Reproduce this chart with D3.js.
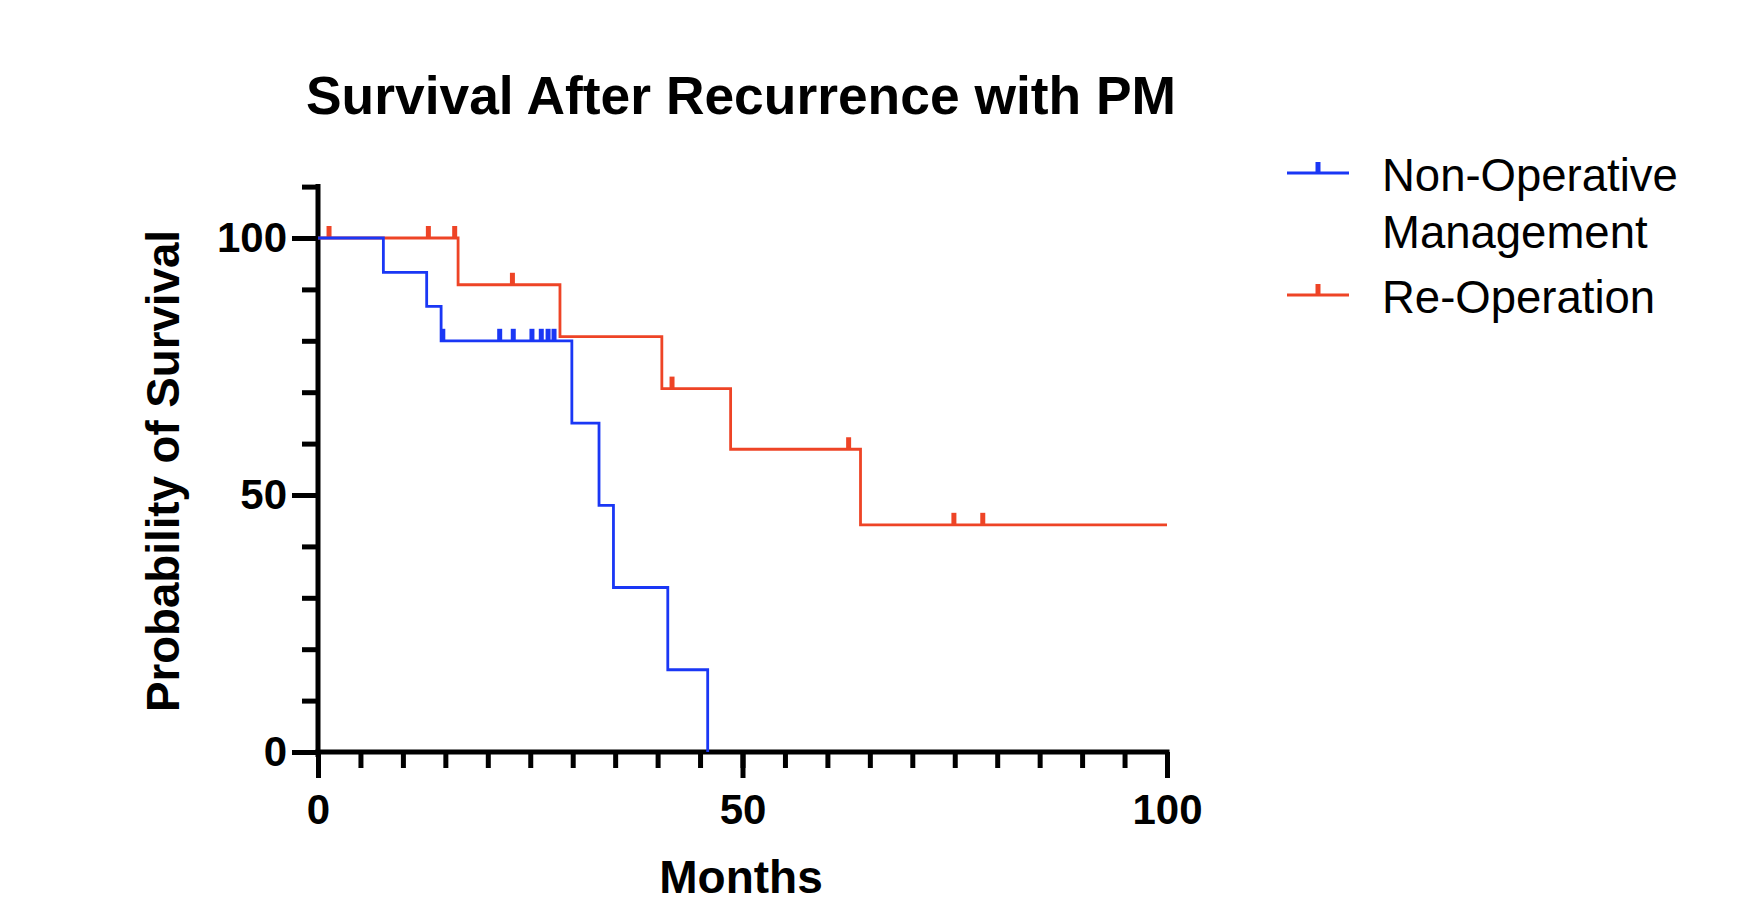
<!DOCTYPE html>
<html>
<head>
<meta charset="utf-8">
<script src="https://cdn.jsdelivr.net/npm/d3@7"></script>
<style>
  html, body { margin: 0; padding: 0; background: #fff; }
  svg { display: block; }
  text { font-family: "Liberation Sans", Arial, Helvetica, sans-serif; fill: #000; }
</style>
</head>
<body>
<svg id="chart" width="1758" height="908"></svg>
<script>
// ---- data ----
const seriesNames = ["Non-Operative Management", "Re-Operation"];
const blueTimes = [0, 7.7, 12.8, 14.5, 29.9, 33.1, 34.8, 41.2, 45.9];
const blueSurv  = [100, 93.3, 86.7, 80, 64, 48, 32, 16, 0];
const blueCensor = [14.7, 21.4, 23.0, 25.2, 26.3, 27.1, 27.8];
const redTimes = [0, 16.5, 28.5, 40.5, 48.6, 63.9, 100];
const redSurv  = [100, 90.9, 80.8, 70.7, 58.9, 44.2, 44.2];
const redCensor = [1.3, 13.0, 16.1, 22.9, 41.7, 62.5, 74.9, 78.3];
const xMajorTicks = [0, 50, 100];
const yMajorTicks = [0, 50, 100];
const titleText = "Survival After Recurrence with PM";
const xLabel = "Months";
const yLabel = "Probability of Survival";

const BLUE = "#1a37f5", RED = "#ee4426";

const svg = d3.select("#chart");
svg.append("rect").attr("width", 1758).attr("height", 908).attr("fill", "#fff");

const x = d3.scaleLinear().domain([0, 100]).range([318, 1167]);
const y = d3.scaleLinear().domain([0, 110]).range([752, 752 - 110 * 5.14]);

// ---- axes ----
const axW = 5;
function styleAxis(g) {
  g.selectAll("path.domain").attr("stroke", "#000").attr("stroke-width", axW).attr("stroke-linecap", "square");
  g.selectAll(".tick line").attr("stroke", "#000").attr("stroke-width", axW);
}
// y minor
const gyMinor = svg.append("g").attr("transform", `translate(${x(0)},0)`)
  .call(d3.axisLeft(y).tickValues(d3.range(0, 111, 10)).tickSize(16).tickSizeOuter(0).tickFormat(""));
styleAxis(gyMinor);
gyMinor.selectAll("path.domain").remove();
// y major with labels
const gy = svg.append("g").attr("transform", `translate(${x(0)},0)`)
  .call(d3.axisLeft(y).tickValues(yMajorTicks).tickSize(26).tickSizeOuter(0).tickPadding(5));
styleAxis(gy);
gy.selectAll("path.domain").attr("d", `M0,${y(110)}V${y(0) + axW/2}`);
gy.selectAll(".tick text").attr("font-size", 42).attr("font-weight", "bold")
  .attr("font-family", '"Liberation Sans", Arial, sans-serif').attr("fill", "#000");

// x minor
const gxMinor = svg.append("g").attr("transform", `translate(0,${y(0)})`)
  .call(d3.axisBottom(x).tickValues(d3.range(0, 101, 5)).tickSize(16).tickSizeOuter(0).tickFormat(""));
styleAxis(gxMinor);
gxMinor.selectAll("path.domain").remove();
const gx = svg.append("g").attr("transform", `translate(0,${y(0)})`)
  .call(d3.axisBottom(x).tickValues(xMajorTicks).tickSize(26).tickSizeOuter(0).tickPadding(16));
styleAxis(gx);
gx.selectAll("path.domain").attr("d", `M${x(0)},0H${x(100)}`);
gx.selectAll(".tick text").attr("font-size", 42).attr("font-weight", "bold")
  .attr("font-family", '"Liberation Sans", Arial, sans-serif').attr("fill", "#000")
  .attr("dy", "0.71em");

// ---- curves ----
const line = d3.line().x(d => x(d[0])).y(d => y(d[1])).curve(d3.curveStepAfter);
function survAt(times, surv, t) {
  let v = surv[0];
  for (let i = 0; i < times.length; i++) if (times[i] <= t) v = surv[i];
  return v;
}
function drawSeries(times, surv, censor, color) {
  const pts = times.map((t, i) => [t, surv[i]]);
  svg.append("path").attr("d", line(pts)).attr("fill", "none")
    .attr("stroke", color).attr("stroke-width", 2.8).attr("stroke-linejoin", "miter");
  svg.append("g").selectAll("line").data(censor).join("line")
    .attr("x1", d => x(d)).attr("x2", d => x(d))
    .attr("y1", d => y(survAt(times, surv, d)))
    .attr("y2", d => y(survAt(times, surv, d)) - 12)
    .attr("stroke", color).attr("stroke-width", 5);
}
drawSeries(redTimes, redSurv, redCensor, RED);
drawSeries(blueTimes, blueSurv, blueCensor, BLUE);

// ---- titles ----
svg.append("text").attr("x", 741).attr("y", 114).attr("text-anchor", "middle")
  .attr("font-size", 53).attr("font-weight", "bold")
  .attr("textLength", 870).attr("lengthAdjust", "spacingAndGlyphs").text(titleText);
svg.append("text").attr("x", 741).attr("y", 893).attr("text-anchor", "middle")
  .attr("font-size", 46).attr("font-weight", "bold").text(xLabel);
svg.append("text").attr("transform", "translate(179,471) rotate(-90)").attr("text-anchor", "middle")
  .attr("font-size", 46).attr("font-weight", "bold")
  .attr("textLength", 482).attr("lengthAdjust", "spacingAndGlyphs").text(yLabel);

// ---- legend ----
const legend = [
  { color: BLUE, lines: ["Non-Operative", "Management"], ly: 173, ty: 191 },
  { color: RED, lines: ["Re-Operation"], ly: 295, ty: 313 }
];
const lg = svg.append("g");
legend.forEach((d, i) => {
  lg.append("line").attr("x1", 1287).attr("x2", 1349).attr("y1", d.ly).attr("y2", d.ly)
    .attr("stroke", d.color).attr("stroke-width", 2.8);
  lg.append("line").attr("x1", 1318).attr("x2", 1318).attr("y1", d.ly).attr("y2", d.ly - 11)
    .attr("stroke", d.color).attr("stroke-width", 5);
  d.lines.forEach((t, j) => {
    lg.append("text").attr("x", 1382).attr("y", d.ty + j * 57)
      .attr("font-size", 45.5).text(t);
  });
});
</script>
</body>
</html>
